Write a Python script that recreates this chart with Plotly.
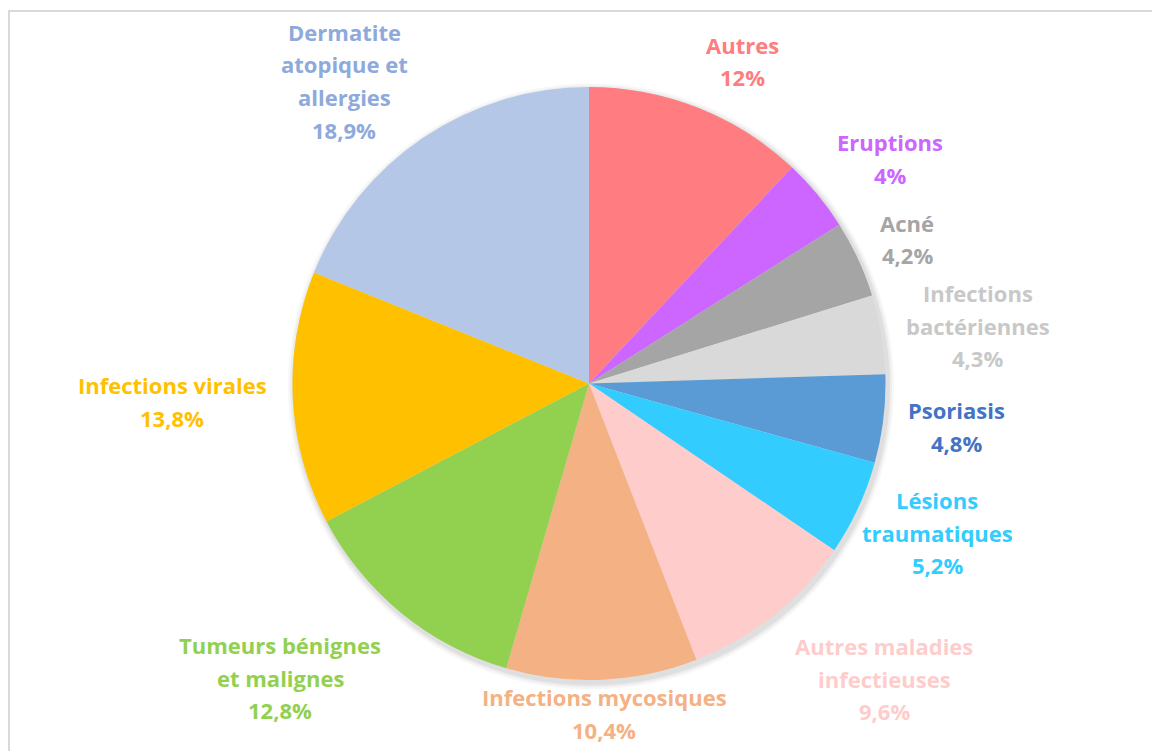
import plotly.graph_objects as go

W, H = 1160, 751
OFF = 8  # page body margin offset

categories = ["Autres", "Eruptions", "Acné", "Infections bactériennes", "Psoriasis",
              "Lésions traumatiques", "Autres maladies infectieuses", "Infections mycosiques",
              "Tumeurs bénignes et malignes", "Infections virales", "Dermatite atopique et allergies"]
values = [12, 4, 4.2, 4.3, 4.8, 5.2, 9.6, 10.4, 12.8, 13.8, 18.9]
value_labels = ["12%", "4%", "4,2%", "4,3%", "4,8%", "5,2%", "9,6%", "10,4%", "12,8%", "13,8%", "18,9%"]
label_lines = [["Autres"], ["Eruptions"], ["Acné"], ["Infections", "bactériennes"], ["Psoriasis"],
               ["Lésions", "traumatiques"], ["Autres maladies", "infectieuses"], ["Infections mycosiques"],
               ["Tumeurs bénignes", "et malignes"], ["Infections virales"], ["Dermatite", "atopique et", "allergies"]]
slice_colors = ["#FF7C80", "#CC66FF", "#A5A5A5", "#D9D9D9", "#5B9BD5", "#33CCFF",
                "#FFCCCC", "#F4B183", "#92D050", "#FFC000", "#B4C7E7"]
text_colors = ["#FF7C80", "#CC66FF", "#A5A5A5", "#C8C8C8", "#4472C4", "#33CCFF",
               "#FFCCCC", "#F4B183", "#92D050", "#FFC000", "#8EA9DB"]
# label anchor (screen pixel center of first line)
label_pos = [(742, 45), (890, 142), (907, 223), (978, 293), (956, 410), (937, 500),
             (884, 646), (604, 697), (280, 645), (172, 385), (344, 32)]
LINE = 32.5

# pie box in screen pixels
px0, px1, py0, py1 = 292, 886, 87, 680


def fx(x):
    return (x - OFF) / W


def fy(y):
    return 1 - (y - OFF) / H


fig = go.Figure()
fig.add_trace(go.Pie(
    labels=categories, values=values, sort=False, direction="clockwise", rotation=0,
    marker=dict(colors=slice_colors, line=dict(width=0)),
    textinfo="none", hoverinfo="label+percent", showlegend=False,
    domain=dict(x=[fx(px0), fx(px1)], y=[fy(py1), fy(py0)]),
))

annotations = []
for lines, val, col, (cx, cy) in zip(label_lines, value_labels, text_colors, label_pos):
    for i, t in enumerate(lines + [val]):
        annotations.append(dict(
            x=fx(cx), y=fy(cy + i * LINE), xref="paper", yref="paper",
            text=f"<b>{t}</b>", showarrow=False, xanchor="center", yanchor="middle",
            font=dict(family="'Open Sans', Lato, sans-serif", size=22, color=col),
        ))

shapes = [
    dict(type="rect", xref="paper", yref="paper", x0=fx(9), y0=-0.05, x1=1.05, y1=fy(11),
         line=dict(color="#D9D9D9", width=2), fillcolor="rgba(0,0,0,0)", layer="below"),
]
# soft shadow behind the pie
cxp, cyp, R = (px0 + px1) / 2, (py0 + py1) / 2, (px1 - px0) / 2
for k, a in [(6, 0.03), (4, 0.04), (2, 0.06)]:
    shapes.append(dict(type="circle", xref="paper", yref="paper",
                       x0=fx(cxp - R - k + 2), x1=fx(cxp + R + k + 2),
                       y0=fy(cyp + R + k + 3), y1=fy(cyp - R - k + 3),
                       line=dict(width=0), fillcolor=f"rgba(0,0,0,{a})", layer="below"))

fig.update_layout(
    width=W, height=H, margin=dict(l=0, r=0, t=0, b=0),
    paper_bgcolor="white", plot_bgcolor="white",
    annotations=annotations, shapes=shapes,
)
fig.write_html("out.html")
